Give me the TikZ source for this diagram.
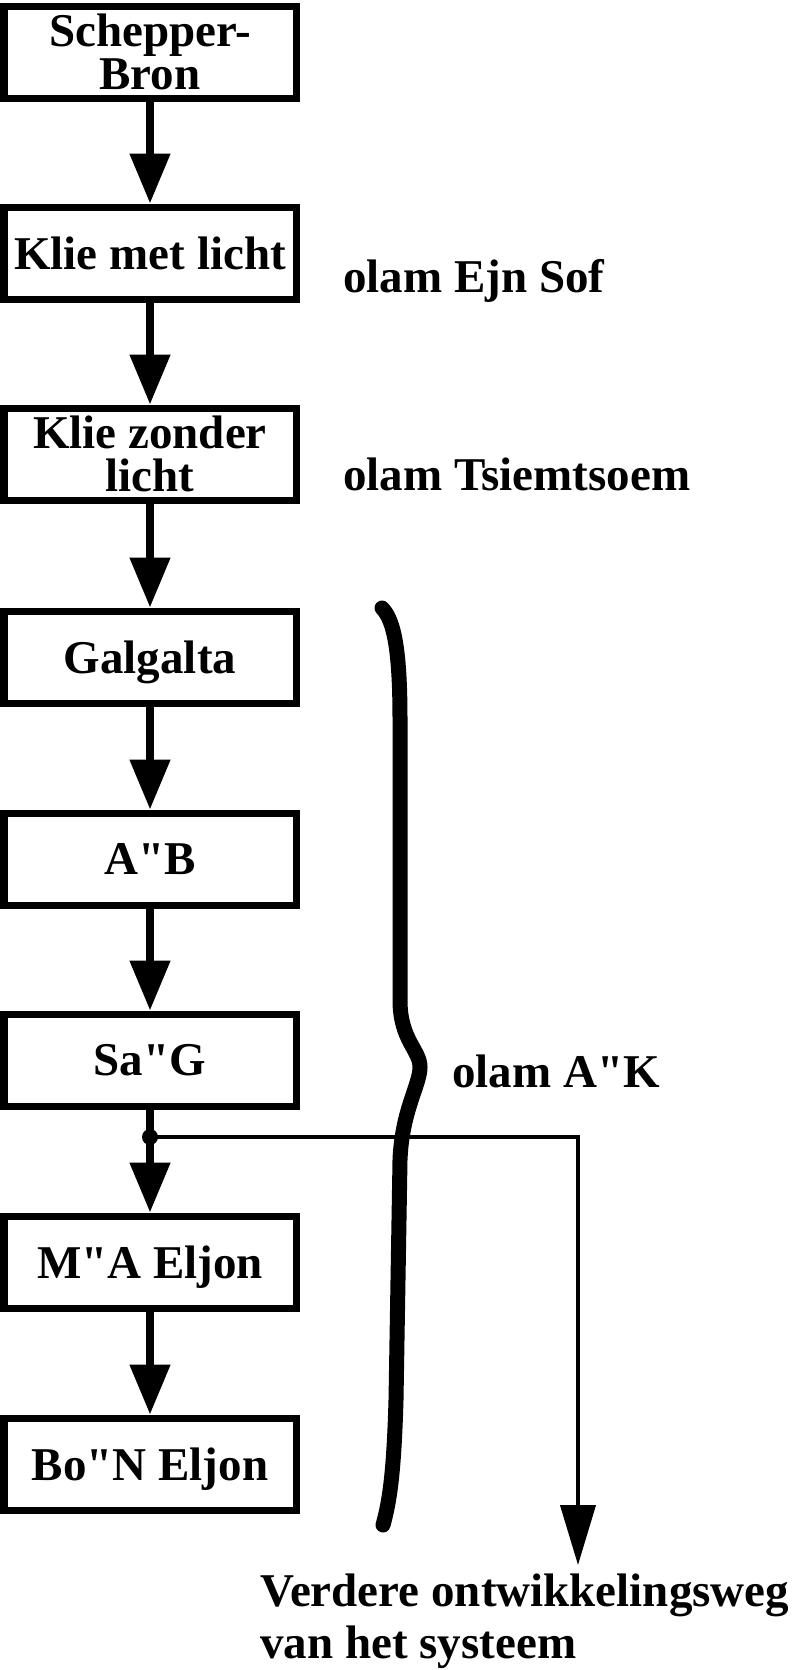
\documentclass[tikz,border=0pt]{standalone}
\usepackage{fontspec}
\setmainfont{Liberation Serif}[Ligatures=TeXOff]
\usetikzlibrary{arrows.meta}

\begin{document}
\begin{tikzpicture}[x=0.5pt, y=-0.5pt, line join=miter,
  main node/.style={rectangle,draw,line width=3.5pt,minimum width=146pt,minimum height=46pt,inner sep=0pt,align=center,text depth=0pt,font=\bfseries\fontsize{23.5}{21.5}\selectfont},
  world label/.style={inner sep=0pt,anchor=base west,font=\bfseries\fontsize{23.5}{26}\selectfont}]
\useasboundingbox (0,0) rectangle (803,1670);
\begin{scope}
\node[main node] (bron) at (150,52) {Schepper-\\Bron};
\node[main node] (licht) at (150,253) {Klie met licht};
\node[main node] (zonder) at (150,454) {Klie zonder\\licht};
\node[main node] (galgalta) at (150,657) {Galgalta};
\node[main node] (ab) at (150,859) {A"B};
\node[main node] (sag) at (150,1060) {Sa"G};
\node[main node] (mae) at (150,1262) {M"A Eljon};
\node[main node] (bon) at (150,1464) {Bo"N Eljon};
\end{scope}
\begin{scope}[every node/.style={world label}]
\node (ejnsof) at (343,292) {olam Ejn Sof};
\node (tsiem) at (343,490) {olam Tsiemtsoem};
\node (olamak) at (452,1087) {olam A"K};
\node[anchor=north west, align=left] (verder) at (260,1573) {Verdere ontwikkelingsweg\\van het systeem};
\end{scope}
\begin{scope}[every edge/.style={draw=black,line width=4pt,-{Triangle[width=19.5pt,length=25pt]}}]
\draw (bron) edge (licht);
\draw (licht) edge (zonder);
\draw (zonder) edge (galgalta);
\draw (galgalta) edge (ab);
\draw (ab) edge (sag);
\draw (sag) edge (mae);
\draw (mae) edge (bon);
\end{scope}
% side branch after Sa"G
\coordinate (split) at (150,1137);
\coordinate (turn) at (578,1137);
\fill (split) circle (4pt);
\draw[line width=2pt,-{Triangle[width=17.5pt,length=30pt]},shorten >=4pt] (split) -- (turn) -- (turn |- verder.north);
% brace around the A"K worlds
\draw[line width=7.5pt,line cap=round] (382,608) .. controls (394,620) and (400,650) .. (400,720)
  -- (400,1000) .. controls (400,1040) and (420,1050) .. (420,1067)
  .. controls (420,1085) and (402,1110) .. (400,1160)
  -- (396,1400) .. controls (394,1470) and (390,1500) .. (383,1525);
\end{tikzpicture}
\end{document}
